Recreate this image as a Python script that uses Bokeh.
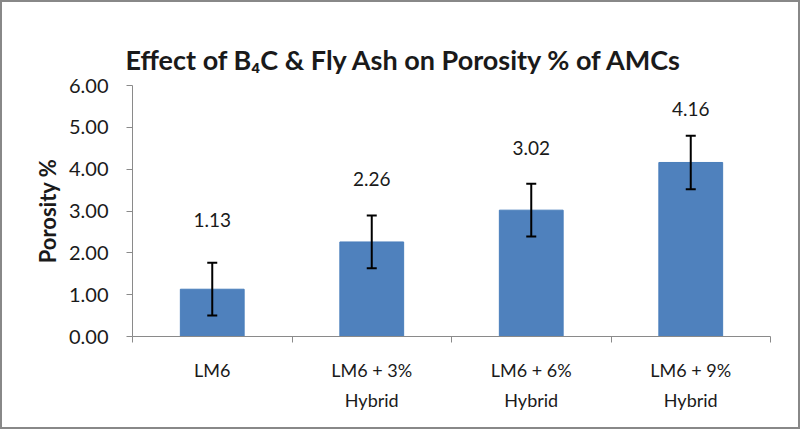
from bokeh.plotting import figure
from bokeh.models import (ColumnDataSource, Whisker, TeeHead, LinearAxis, CategoricalAxis,
                          FixedTicker, Range1d, Title, LabelSet)
from bokeh.core.properties import value
from bokeh.embed import file_html
from bokeh.resources import INLINE

# Porosity of the LM6 alloy and its hybrid composites
categories = ["LM6", "LM6 + 3%\nHybrid", "LM6 + 6%\nHybrid", "LM6 + 9%\nHybrid"]
porosity = [1.13, 2.26, 3.02, 4.16]
errors = [0.63, 0.63, 0.63, 0.64]
value_labels = ["1.13", "2.26", "3.02", "4.16"]
y_ticks = [0, 1, 2, 3, 4, 5, 6]
boundaries = [0, 1, 2, 3, 4]

FONT = "Lato"
AXIS_GREY = "#8a8a8a"
TEXT = "#1a1a1a"

src = ColumnDataSource(dict(
    cat=categories,
    val=porosity,
    upper=[v + e for v, e in zip(porosity, errors)],
    lower=[v - e for v, e in zip(porosity, errors)],
    lab=value_labels,
    lab_off=[69, 63, 62, 53],
))

p = figure(width=800, height=429, x_range=categories, y_range=Range1d(0, 6),
           output_backend="svg", toolbar_location=None,
           x_axis_location=None, y_axis_location=None,
           min_border_left=132, min_border_right=30, min_border_top=85, min_border_bottom=93)
p.outline_line_color = None
p.grid.grid_line_color = None
p.background_fill_color = "white"
p.border_fill_color = None

# chart title
p.add_layout(Title(text="Effect of B\u2084C & Fly Ash on Porosity % of AMCs",
                   align="left", offset=-7, standoff=20,
                   text_font=FONT, text_font_size="27px", text_font_style="bold",
                   text_color=TEXT), "above")

# empty band between the title and the plot area (a blank top axis)
spacer = LinearAxis(ticker=FixedTicker(ticks=[2]))
spacer.major_label_overrides = {2: ""}
spacer.axis_line_color = None
spacer.major_tick_line_color = "white"
spacer.minor_tick_line_color = None
spacer.major_tick_out = 26
spacer.major_tick_in = 0
spacer.major_label_text_font_size = "1px"
spacer.major_label_standoff = 0
p.add_layout(spacer, "above")

# y axis
yax = LinearAxis(ticker=FixedTicker(ticks=y_ticks), axis_label="Porosity %")
yax.major_label_overrides = {t: f"{t:.2f}" for t in y_ticks}
yax.axis_line_color = AXIS_GREY
yax.major_tick_line_color = AXIS_GREY
yax.major_tick_out = 6
yax.major_tick_in = 0
yax.minor_tick_line_color = None
yax.major_label_text_font = FONT
yax.major_label_text_font_size = "20px"
yax.major_label_text_color = TEXT
yax.major_label_standoff = 18
yax.axis_label_text_font = FONT
yax.axis_label_text_font_size = "22px"
yax.axis_label_text_font_style = "bold"
yax.axis_label_text_color = TEXT
yax.axis_label_standoff = 5
p.add_layout(yax, "left")

# x axis line with tick marks at the category boundaries
xtick = LinearAxis(ticker=FixedTicker(ticks=boundaries))
xtick.major_label_overrides = {b: "" for b in boundaries}
xtick.axis_line_color = AXIS_GREY
xtick.major_tick_line_color = AXIS_GREY
xtick.major_tick_out = 6
xtick.major_tick_in = 0
xtick.minor_tick_line_color = None
xtick.major_label_text_font_size = "1px"
xtick.major_label_standoff = 0
p.add_layout(xtick, "below")

# category names
xcat = CategoricalAxis()
xcat.axis_line_color = None
xcat.major_tick_line_color = None
xcat.minor_tick_line_color = None
xcat.major_label_text_font = FONT
xcat.major_label_text_font_size = "18px"
xcat.major_label_text_color = TEXT
xcat.major_label_text_line_height = 1.37
xcat.major_label_standoff = 10
p.add_layout(xcat, "below")

p.vbar(x="cat", top="val", width=0.4, source=src,
       fill_color="#4f81bd", line_color="#4a7ebb", line_width=1)

p.add_layout(Whisker(base="cat", upper="upper", lower="lower", source=src, level="overlay",
                     line_color="black", line_width=2,
                     upper_head=TeeHead(size=10, line_color="black", line_width=2),
                     lower_head=TeeHead(size=10, line_color="black", line_width=2)))

p.add_layout(LabelSet(x="cat", y="val", text="lab", source=src, y_offset="lab_off",
                      text_align="center", text_baseline="middle", level="overlay",
                      text_font=value(FONT), text_font_size=value("19px"),
                      text_color=TEXT))

# thin grey frame round the whole chart
p.styles = {"background-color": "white", "box-shadow": "inset 0 0 0 2px #888888"}

open("out.html", "w").write(file_html(p, INLINE))
